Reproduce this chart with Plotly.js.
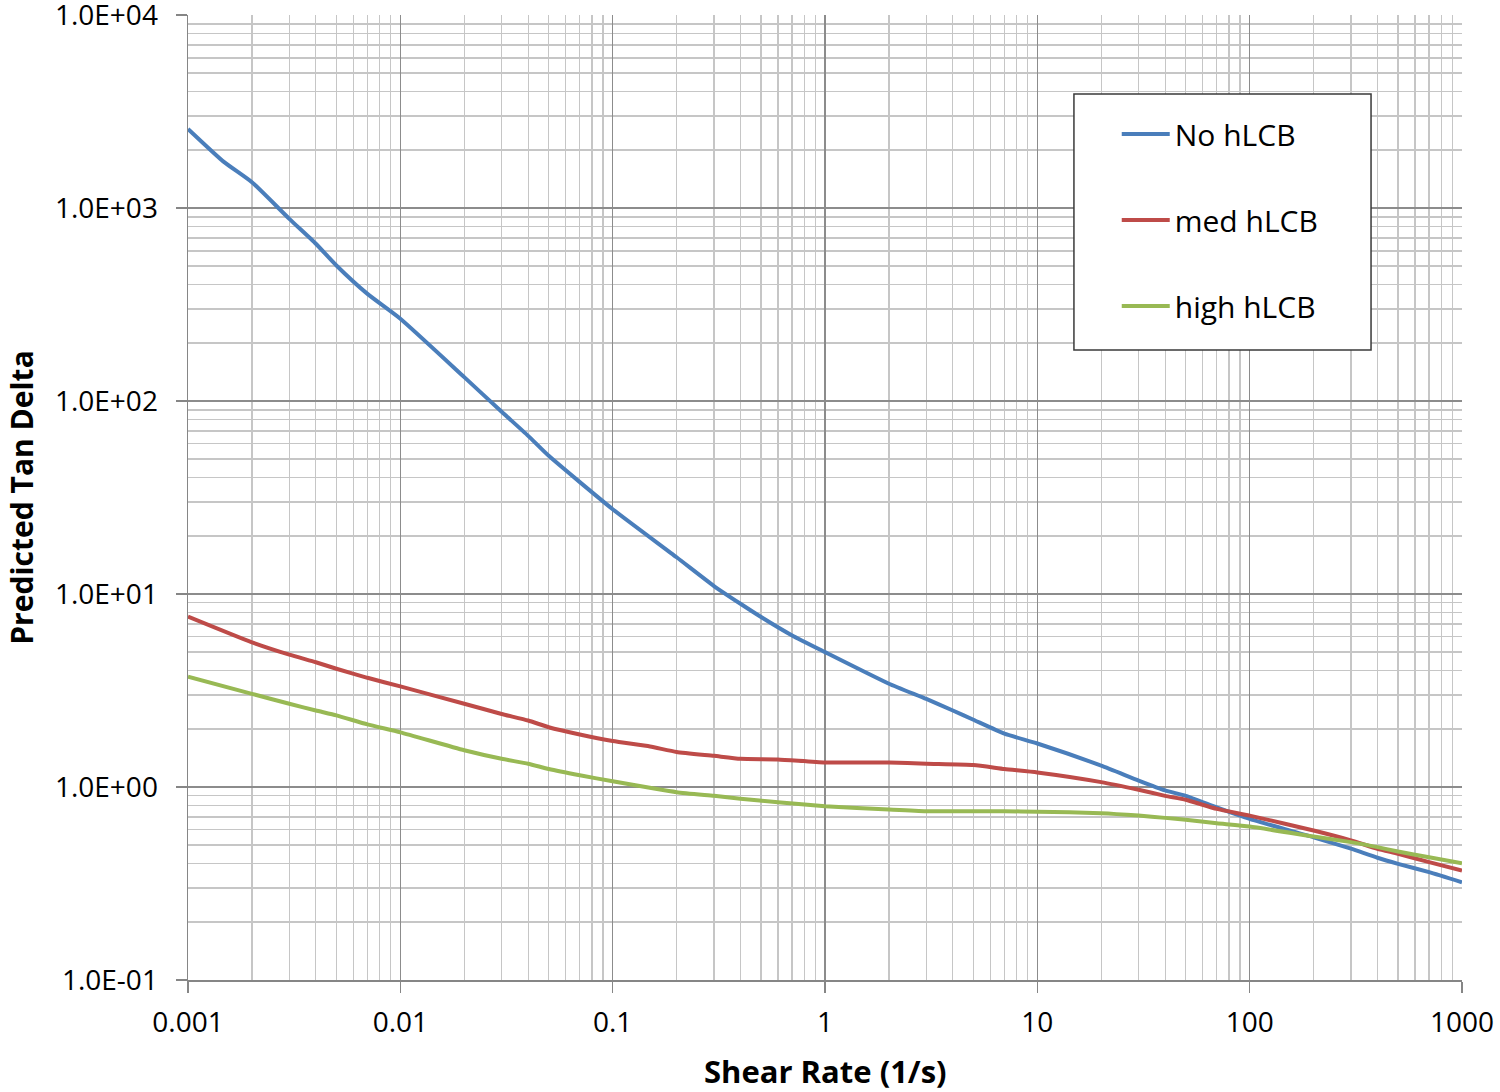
<!DOCTYPE html>
<html>
<head>
<meta charset="utf-8">
<script src="https://cdn.plot.ly/plotly-3.0.1.min.js"></script>
<style>
  html, body { margin: 0; padding: 0; background: #ffffff; }
  #chart { width: 1500px; height: 1092px; }
</style>
</head>
<body>
<div id="chart"></div>
<script>
// ---- data ----
const seriesNames = ["No hLCB", "med hLCB", "high hLCB"];

const noX = [0.001, 0.00147, 0.002, 0.003, 0.004, 0.005, 0.007, 0.01, 0.02, 0.03, 0.04, 0.05, 0.1, 0.2, 0.3, 0.4, 0.5, 0.7, 1, 2, 3, 4, 5, 7, 10, 20, 30, 40, 50, 70, 100, 200, 300, 400, 500, 700, 1000];
const noY = [2570, 1740, 1361, 879, 653, 504, 359, 267, 133, 88, 66, 52, 27.5, 15.5, 11.0, 8.9, 7.6, 6.1, 5.0, 3.43, 2.86, 2.49, 2.23, 1.89, 1.68, 1.29, 1.08, 0.96, 0.90, 0.785, 0.684, 0.549, 0.479, 0.430, 0.400, 0.362, 0.321];

const medX = [0.001, 0.002, 0.003, 0.004, 0.005, 0.007, 0.01, 0.02, 0.03, 0.04, 0.05, 0.07, 0.1, 0.15, 0.2, 0.3, 0.4, 0.6, 1, 2, 3, 5, 7, 10, 20, 30, 40, 50, 70, 100, 200, 300, 400, 500, 700, 1000];
const medY = [7.64, 5.62, 4.85, 4.43, 4.10, 3.68, 3.32, 2.70, 2.39, 2.21, 2.04, 1.87, 1.73, 1.62, 1.52, 1.45, 1.40, 1.39, 1.34, 1.34, 1.32, 1.30, 1.24, 1.19, 1.06, 0.967, 0.90, 0.859, 0.77, 0.711, 0.595, 0.529, 0.479, 0.451, 0.408, 0.369];

const highX = [0.001, 0.002, 0.003, 0.004, 0.005, 0.007, 0.01, 0.02, 0.03, 0.04, 0.05, 0.07, 0.1, 0.2, 0.3, 0.4, 0.6, 1, 2, 3, 7, 10, 20, 30, 40, 50, 70, 100, 200, 300, 400, 500, 700, 1000];
const highY = [3.73, 3.04, 2.70, 2.49, 2.35, 2.11, 1.92, 1.55, 1.40, 1.32, 1.24, 1.15, 1.07, 0.94, 0.90, 0.87, 0.834, 0.795, 0.764, 0.749, 0.749, 0.745, 0.732, 0.711, 0.692, 0.676, 0.649, 0.624, 0.554, 0.518, 0.488, 0.463, 0.433, 0.403];

const xTickVals = [0.001, 0.01, 0.1, 1, 10, 100, 1000];
const xTickText = ["0.001", "0.01", "0.1", "1", "10", "100", "1000"];
const yTickVals = [0.1, 1, 10, 100, 1000, 10000];
const yTickText = ["1.0E-01", "1.0E+00", "1.0E+01", "1.0E+02", "1.0E+03", "1.0E+04"];

const xTitle = "Shear Rate (1/s)";
const yTitle = "Predicted Tan Delta";

// ---- styles ----
const colors = ["#4a7ebb", "#be4b48", "#98b954"];
const FONT = "'Open Sans', Lato, 'Liberation Sans', sans-serif";

// minor grid positions: 2..9 within each decade of the axis
function minorVals(majors) {
  const out = [];
  for (let i = 0; i < majors.length - 1; i++) {
    for (let k = 2; k <= 9; k++) out.push(majors[i] * k);
  }
  return out;
}

const traces = [
  {x: noX, y: noY},
  {x: medX, y: medY},
  {x: highX, y: highY}
].map((d, i) => ({
  x: d.x, y: d.y, type: "scatter", mode: "lines",
  name: seriesNames[i], legendgroup: "g" + i,
  line: {color: colors[i], width: 4, shape: "spline", smoothing: 0.5}
}));

const majorGrid = "#8c8c8c";
const minorGrid = "#c6c6c6";

function axisCommon(vals, text, range) {
  return {
    type: "log", range: range,
    tickmode: "array", tickvals: vals, ticktext: text,
    ticks: "outside", ticklen: 11, tickwidth: 1.5, tickcolor: "#868686",
    showline: true, linecolor: "#868686", linewidth: 1.5,
    showgrid: true, gridcolor: majorGrid, gridwidth: 1.5,
    zeroline: false, ticklabeloverflow: "allow",
    minor: {tickmode: "array", tickvals: minorVals(vals), showgrid: true, gridcolor: minorGrid, gridwidth: 1.3, ticks: ""},
    tickfont: {family: FONT, size: 28, color: "#000000"}
  };
}

const layout = {
  width: 1500, height: 1092,
  paper_bgcolor: "#ffffff", plot_bgcolor: "#ffffff",
  margin: {l: 188, r: 38, t: 15, b: 112, pad: 0},
  font: {family: FONT, size: 28, color: "#000000"},
  showlegend: true,
  legend: {
    x: 0.729, y: 0.9036, xanchor: "left", yanchor: "top",
    bgcolor: "rgba(0,0,0,0)", borderwidth: 0,
    itemwidth: 48, tracegroupgap: 44,
    font: {family: FONT, size: 30, color: "#000000"}
  },
  shapes: [{
    type: "rect", xref: "paper", yref: "paper",
    x0: 0.6954, x1: 0.9286, y0: 0.6528, y1: 0.9181,
    fillcolor: "#ffffff", line: {color: "#3a3a3a", width: 1.5}, layer: "above"
  }],
  annotations: [{
    text: "<b>" + xTitle + "</b>", xref: "paper", yref: "paper",
    x: 0.5, y: -0.0943, xanchor: "center", yanchor: "middle", showarrow: false,
    font: {family: FONT, size: 31, color: "#000000"}
  }],
  xaxis: Object.assign(axisCommon(xTickVals, xTickText, [-3, 3.0001]), {
    ticklabelstandoff: 6
  }),
  yaxis: Object.assign(axisCommon(yTickVals, yTickText, [-1, 4.0002]), {
    ticklabelstandoff: 12,
    title: {text: yTitle, font: {family: FONT, size: 30, color: "#000000", weight: "bold"}, standoff: 12}
  })
};

Plotly.newPlot("chart", traces, layout, {displayModeBar: false, staticPlot: true});
</script>
</body>
</html>
